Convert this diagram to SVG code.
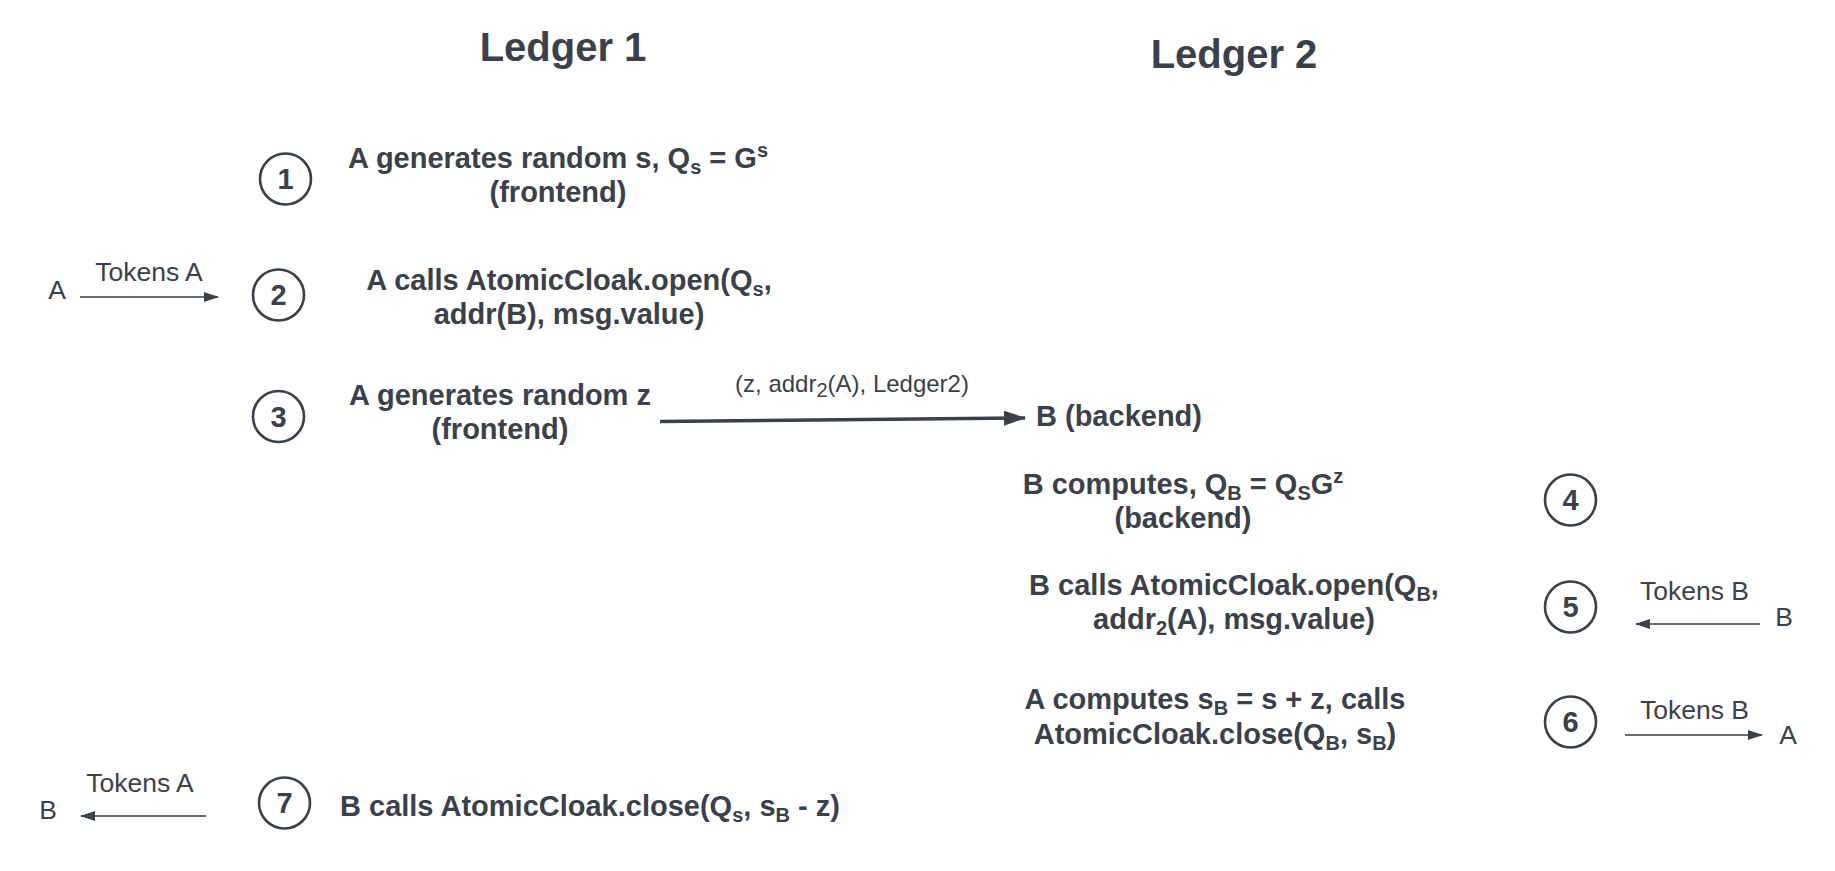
<svg xmlns="http://www.w3.org/2000/svg" width="1835" height="871" viewBox="0 0 1835 871">
<style>
text{font-family:"Liberation Sans",Arial,sans-serif;fill:#3a414a}
.h{font-size:40px;font-weight:bold;text-anchor:middle}
.b{font-size:29px;font-weight:bold;text-anchor:middle}
.n{font-size:26.5px;text-anchor:middle}
.l{font-size:24px;text-anchor:middle}
.s{font-size:20px}
circle{fill:none;stroke:#3a414a;stroke-width:2.6}
.num{font-size:29px;font-weight:bold;text-anchor:middle}
.c{stroke:#3a414a;fill:none}
</style>
<defs>
<marker id="ah" markerWidth="15" markerHeight="10" refX="14" refY="5" orient="auto" markerUnits="userSpaceOnUse"><path d="M0,0 L15,5 L0,10 z" fill="#3a414a"/></marker>
<marker id="ahL" markerWidth="22" markerHeight="15" refX="21" refY="7.5" orient="auto" markerUnits="userSpaceOnUse"><path d="M0,0 L22,7.5 L0,15 z" fill="#3a414a"/></marker>
</defs>
<g id="titles">
<text class="h" x="563" y="61">Ledger 1</text>
<text class="h" x="1234" y="68">Ledger 2</text>
</g>
<g id="step1">
<circle cx="285.5" cy="179" r="25.5"/>
<text class="num" x="285.5" y="189">1</text>
<text class="b" x="558" y="168">A generates random s, Q<tspan class="s" dy="6">s</tspan><tspan dy="-6"> = G</tspan><tspan class="s" dy="-11">s</tspan></text>
<text class="b" x="558" y="202">(frontend)</text>
</g>
<g id="step2">
<circle cx="278.5" cy="295" r="25.5"/>
<text class="num" x="278.5" y="305">2</text>
<text class="b" x="569" y="290">A calls AtomicCloak.open(Q<tspan class="s" dy="6">s</tspan><tspan dy="-6">,</tspan></text>
<text class="b" x="569" y="324">addr(B), msg.value)</text>
<text class="n" x="57" y="299">A</text>
<text class="n" x="149" y="281">Tokens A</text>
</g>
<g id="step3">
<circle cx="278.5" cy="416.5" r="25.5"/>
<text class="num" x="278.5" y="426.5">3</text>
<text class="b" x="500" y="405">A generates random z</text>
<text class="b" x="500" y="439">(frontend)</text>
</g>
<g id="backend">
<text class="b" x="1036" y="426" style="text-anchor:start">B (backend)</text>
</g>
<g id="step4">
<circle cx="1570.5" cy="500" r="25.5"/>
<text class="num" x="1570.5" y="510">4</text>
<text class="b" x="1183" y="494">B computes, Q<tspan class="s" dy="6">B</tspan><tspan dy="-6"> = Q</tspan><tspan class="s" dy="6">S</tspan><tspan dy="-6">G</tspan><tspan class="s" dy="-11">z</tspan></text>
<text class="b" x="1183" y="528">(backend)</text>
</g>
<g id="step5">
<circle cx="1570.5" cy="607" r="25.5"/>
<text class="num" x="1570.5" y="617">5</text>
<text class="b" x="1234" y="595">B calls AtomicCloak.open(Q<tspan class="s" dy="6">B</tspan><tspan dy="-6">,</tspan></text>
<text class="b" x="1234" y="629">addr<tspan class="s" dy="6">2</tspan><tspan dy="-6">(A), msg.value)</tspan></text>
<text class="n" x="1694.5" y="600">Tokens B</text>
<text class="n" x="1784" y="626">B</text>
</g>
<g id="step6">
<circle cx="1570.5" cy="722" r="25.5"/>
<text class="num" x="1570.5" y="732">6</text>
<text class="b" x="1215" y="709">A computes s<tspan class="s" dy="6">B</tspan><tspan dy="-6"> = s + z, calls</tspan></text>
<text class="b" x="1215" y="744">AtomicCloak.close(Q<tspan class="s" dy="6">B</tspan><tspan dy="-6">, s</tspan><tspan class="s" dy="6">B</tspan><tspan dy="-6">)</tspan></text>
<text class="n" x="1694.5" y="719">Tokens B</text>
<text class="n" x="1788" y="744">A</text>
</g>
<g id="step7">
<circle cx="284.5" cy="803" r="25.5"/>
<text class="num" x="284.5" y="813">7</text>
<text class="b" x="340" y="816" style="text-anchor:start">B calls AtomicCloak.close(Q<tspan class="s" dy="6">s</tspan><tspan dy="-6">, s</tspan><tspan class="s" dy="6">B</tspan><tspan dy="-6"> - z)</tspan></text>
<text class="n" x="140" y="792">Tokens A</text>
<text class="n" x="48" y="819">B</text>
</g>
<g id="connectors">
<line class="c" x1="80" y1="297" x2="218" y2="297" stroke-width="1.5" marker-end="url(#ah)"/>
<line class="c" x1="660" y1="421.5" x2="1025" y2="418" stroke-width="3.5" marker-end="url(#ahL)"/>
<text class="l" x="852" y="392">(z, addr<tspan class="s" dy="5">2</tspan><tspan dy="-5">(A), Ledger2)</tspan></text>
<line class="c" x1="1760" y1="624" x2="1636" y2="624" stroke-width="1.5" marker-end="url(#ah)"/>
<line class="c" x1="1625" y1="735" x2="1762" y2="735" stroke-width="1.5" marker-end="url(#ah)"/>
<line class="c" x1="206" y1="816" x2="81" y2="816" stroke-width="1.5" marker-end="url(#ah)"/>
</g>
</svg>
